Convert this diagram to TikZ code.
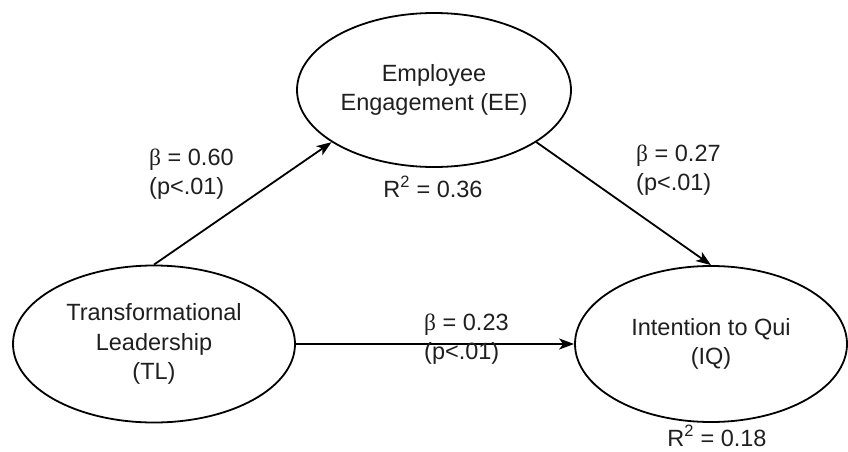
\documentclass[tikz,border=0pt]{standalone}
\usepackage{fontspec}
\setmainfont{Liberation Sans}
\newfontfamily\grk{Liberation Serif}
\usepackage{tikz}
\usetikzlibrary{
  arrows.meta,
  shapes.geometric
}

\begin{document}
\begin{tikzpicture}[x=1pt, y=-1pt,
    every node/.style={font=\fontsize{23.5}{29.5}\selectfont, text=black!88},
    construct/.style={ellipse, draw, line width=1.8pt, inner sep=0pt, align=center},
    coef/.style={align=left, anchor=west, inner sep=0pt},
    rsq/.style={anchor=base, inner sep=0pt},
    path/.style={line width=1.8pt, -{Stealth[length=15pt, width=11pt, inset=4pt]}}]
\useasboundingbox (0,0) rectangle (848,452);
\node [construct, minimum width=282pt, minimum height=157pt] (tl) at (154,344) {Transformational\\Leadership\\(TL)};
\node [construct, minimum width=274pt, minimum height=154pt] (ee) at (434,90) {Employee\\Engagement (EE)};
\node [construct, minimum width=272pt, minimum height=156pt] (iq) at (711,344) {Intention to Qui\\(IQ)};
\draw [path] (tl.north) -- (ee.207);
\draw [path] (ee.333) -- (iq.north);
\draw [path] (tl.east) -- (iq.west);
\node [coef] (b60) at (149,174) {{\grk β} = 0.60\\(p<.01)};
\node [coef] (b27) at (636,170) {{\grk β} = 0.27\\(p<.01)};
\node [coef] (b23) at (424,339) {{\grk β} = 0.23\\(p<.01)};
\node [rsq] (r2ee) at (433,197) {R\textsuperscript{2} = 0.36};
\node [rsq] (r2iq) at (717,446) {R\textsuperscript{2} = 0.18};
\end{tikzpicture}
\end{document}
